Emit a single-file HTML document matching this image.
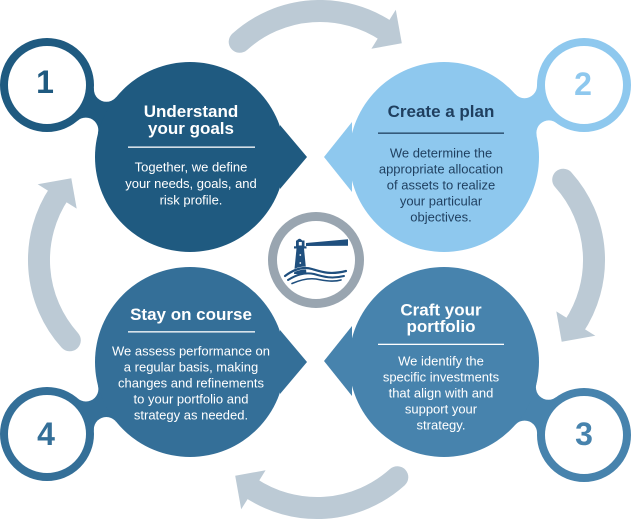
<!DOCTYPE html>
<html>
<head>
<meta charset="utf-8">
<style>
  html, body { margin: 0; padding: 0; background: #ffffff; }
  body { width: 632px; height: 520px; overflow: hidden; }
  svg { display: block; }
  text { font-family: "Liberation Sans", Arial, sans-serif; }
</style>
</head>
<body>
<svg width="632" height="520" viewBox="0 0 632 520" xmlns="http://www.w3.org/2000/svg">
  <rect width="632" height="520" fill="#ffffff"/>

  <!-- Arrows -->
  <defs>
    <g id="arr">
      <path d="M -80.3 -89.2 A 120 120 0 0 1 67.1 -99.5" fill="none" stroke="#bccad5" stroke-width="22" stroke-linecap="round"/>
      <polygon points="75.8,-121.3 81.8,-87.7 51.4,-82.3" fill="#bccad5"/>
    </g>
  </defs>
  <use href="#arr" transform="translate(320,131)"/>
  <use href="#arr" transform="translate(474,260) rotate(90)"/>
  <use href="#arr" transform="translate(317,388) rotate(180)"/>
  <use href="#arr" transform="translate(159,260) rotate(270)"/>

  <!-- Circle 1 -->
  <polygon points="47,85 106.4,89.3 190,157 85.8,130.1" fill="#1f5a80"/>
  <circle cx="106.4" cy="89.3" r="12.5" fill="#fff"/>
  <circle cx="85.8" cy="130.1" r="12.5" fill="#fff"/>
  <circle cx="190" cy="157" r="95" fill="#1f5a80"/>
  <polygon points="280,125 307,157 280,189" fill="#1f5a80"/>
  <circle cx="47" cy="85" r="43" fill="#fff" stroke="#1f5a80" stroke-width="8"/>

  <!-- Circle 2 -->
  <polygon points="584,85 524.5,85.7 444,157 548.9,132.9" fill="#8ec8ee"/>
  <circle cx="524.5" cy="85.7" r="12.5" fill="#fff"/>
  <circle cx="548.9" cy="132.9" r="12.5" fill="#fff"/>
  <circle cx="444" cy="157" r="95" fill="#8ec8ee"/>
  <polygon points="352,122 324,157 352,192" fill="#8ec8ee"/>
  <circle cx="584" cy="85" r="43" fill="#fff" stroke="#8ec8ee" stroke-width="8"/>

  <!-- Circle 3 -->
  <polygon points="584,435 548.4,387.3 444,362 524.6,433.1" fill="#4783ad"/>
  <circle cx="548.4" cy="387.3" r="12.5" fill="#fff"/>
  <circle cx="524.6" cy="433.1" r="12.5" fill="#fff"/>
  <circle cx="444" cy="362" r="95" fill="#4783ad"/>
  <polygon points="352,326 324,361 352,396" fill="#4783ad"/>
  <circle cx="584" cy="435" r="43" fill="#fff" stroke="#4783ad" stroke-width="8"/>

  <!-- Circle 4 -->
  <polygon points="47,434 85.9,389 190,362 106.3,429.5" fill="#346f98"/>
  <circle cx="85.9" cy="389" r="12.5" fill="#fff"/>
  <circle cx="106.3" cy="429.5" r="12.5" fill="#fff"/>
  <circle cx="190" cy="362" r="95" fill="#346f98"/>
  <polygon points="280,330 307,362 280,394" fill="#346f98"/>
  <circle cx="47" cy="434" r="43" fill="#fff" stroke="#346f98" stroke-width="8"/>

  <!-- Numbers -->
  <text x="45" y="93" font-size="32" font-weight="bold" fill="#1f5a80" text-anchor="middle">1</text>
  <text x="583" y="95" font-size="32" font-weight="bold" fill="#8ec8ee" text-anchor="middle">2</text>
  <text x="584" y="445" font-size="32" font-weight="bold" fill="#4783ad" text-anchor="middle">3</text>
  <text x="46" y="445" font-size="32" font-weight="bold" fill="#346f98" text-anchor="middle">4</text>

  <!-- Circle 1 text -->
  <g fill="#ffffff" text-anchor="middle">
    <text x="191" y="117" font-size="17" font-weight="bold">Understand</text>
    <text x="191" y="134" font-size="17" font-weight="bold">your goals</text>
    <text x="191" y="171.5" font-size="13">Together, we define</text>
    <text x="191" y="188" font-size="13">your needs, goals, and</text>
    <text x="191" y="204.5" font-size="13">risk profile.</text>
  </g>
  <rect x="128" y="146.5" width="127" height="1.3" fill="#ffffff"/>

  <!-- Circle 2 text -->
  <g fill="#1f3f5f" text-anchor="middle">
    <text x="441" y="117" font-size="17" font-weight="bold">Create a plan</text>
    <text x="441" y="157.6" font-size="13">We determine the</text>
    <text x="441" y="173.6" font-size="13">appropriate allocation</text>
    <text x="441" y="189.6" font-size="13">of assets to realize</text>
    <text x="441" y="205.6" font-size="13">your particular</text>
    <text x="441" y="221.6" font-size="13">objectives.</text>
  </g>
  <rect x="378" y="132.5" width="126" height="1.3" fill="#1f3f5f"/>

  <!-- Circle 3 text -->
  <g fill="#ffffff" text-anchor="middle">
    <text x="441" y="315.5" font-size="17" font-weight="bold">Craft your</text>
    <text x="441" y="332" font-size="17" font-weight="bold">portfolio</text>
    <text x="441" y="365.3" font-size="13">We identify the</text>
    <text x="441" y="381.3" font-size="13">specific investments</text>
    <text x="441" y="397.3" font-size="13">that align with and</text>
    <text x="441" y="413.3" font-size="13">support your</text>
    <text x="441" y="429.3" font-size="13">strategy.</text>
  </g>
  <rect x="378" y="343.7" width="126" height="1.3" fill="#ffffff"/>

  <!-- Circle 4 text -->
  <g fill="#ffffff" text-anchor="middle">
    <text x="191" y="320" font-size="17" font-weight="bold">Stay on course</text>
    <text x="191" y="355.3" font-size="13">We assess performance on</text>
    <text x="191" y="371.3" font-size="13">a regular basis, making</text>
    <text x="191" y="387.3" font-size="13">changes and refinements</text>
    <text x="191" y="403.3" font-size="13">to your portfolio and</text>
    <text x="191" y="419.3" font-size="13">strategy as needed.</text>
  </g>
  <rect x="128" y="331.2" width="127" height="1.3" fill="#ffffff"/>

  <!-- Center lighthouse -->
  <circle cx="316" cy="260" r="43.5" fill="#ffffff" stroke="#99a5b0" stroke-width="9"/>
  <g fill="#1f4f7e">
    <path d="M296.5,241 Q299.5,236.5 302.5,241 Z"/>
    <rect x="296" y="240.5" width="8.5" height="6"/>
    <rect x="294" y="246.3" width="12.5" height="2.2"/>
    <polygon points="296.5,248.5 304,248.5 306.5,274 294,274"/>
    <polygon points="306,243 348,239.2 348,245.8 306,246"/>
  </g>
  <rect x="298.8" y="242" width="3" height="3.5" fill="#ffffff"/>
  <circle cx="300.3" cy="255" r="0.9" fill="#ffffff"/>
  <circle cx="300.3" cy="263" r="0.9" fill="#ffffff"/>
  <g fill="none" stroke="#1f4f7e" stroke-linecap="round">
    <path d="M285,276 C293,270 302,266 312,269 C322,272 330,275 346,271" stroke-width="3" stroke="#ffffff"/>
    <path d="M285,276 C293,270 302,266 312,269 C322,272 330,275 346,271" stroke-width="2.2"/>
    <path d="M288,280 C296,275 304,272 314,274 C324,277 332,279 344,276" stroke-width="2"/>
    <path d="M292,283.5 C300,280 308,278 316,279 C326,281 334,282 341,280" stroke-width="1.6"/>
  </g>
</svg>
</body>
</html>
